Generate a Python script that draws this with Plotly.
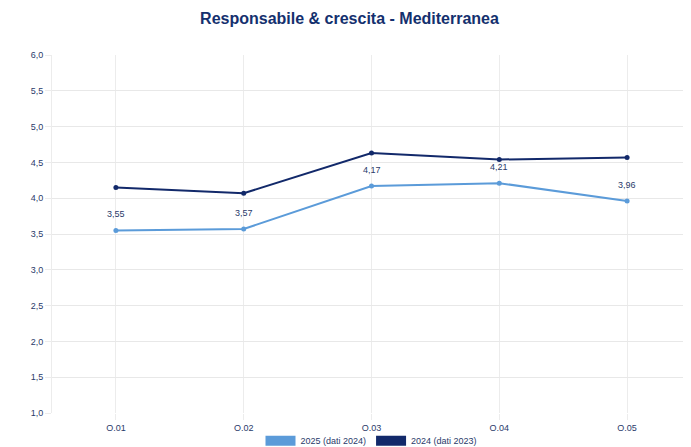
import plotly.graph_objects as go

# DATA
categories = ["O.01", "O.02", "O.03", "O.04", "O.05"]
vals_2025 = [3.55, 3.57, 4.17, 4.21, 3.96]
vals_2024 = [4.15, 4.07, 4.63, 4.54, 4.57]
name_2025 = "2025 (dati 2024)"
name_2024 = "2024 (dati 2023)"
y_ticks = [1.0, 1.5, 2.0, 2.5, 3.0, 3.5, 4.0, 4.5, 5.0, 5.5, 6.0]

LIGHT = "#5b9bd9"
DARK = "#12296a"
TEXT = "#2a3a6a"
FONT = "Liberation Sans, Arial, sans-serif"

fig = go.Figure()

fig.add_trace(go.Scatter(
    x=categories, y=vals_2024, mode="lines+markers",
    line=dict(color=DARK, width=2), marker=dict(color=DARK, size=5),
    showlegend=False, name=name_2024,
))
fig.add_trace(go.Scatter(
    x=categories, y=vals_2025, mode="lines+markers",
    line=dict(color=LIGHT, width=2), marker=dict(color=LIGHT, size=5),
    showlegend=False, name=name_2025,
))

# value labels above the light series
for c, v in zip(categories, vals_2025):
    fig.add_annotation(
        x=c, y=v, text=f"{v:.2f}".replace(".", ","),
        showarrow=False, yshift=16,
        font=dict(size=9, color=TEXT, family=FONT),
    )

# legend swatches (rectangles)
for nm, col in [(name_2025, LIGHT), (name_2024, DARK)]:
    fig.add_trace(go.Scatter(
        x=[None], y=[None], mode="lines", name=nm,
        line=dict(color=col, width=10),
    ))

fig.update_layout(
    width=683, height=439,
    paper_bgcolor="white", plot_bgcolor="white",
    separators=",.",
    font=dict(family=FONT, size=9, color=TEXT),
    title=dict(
        text="<b>Responsabile & crescita - Mediterranea</b>",
        x=0.5, xanchor="center", y=0.977, yanchor="middle",
        font=dict(size=16, color="#14306e", family=FONT),
    ),
    margin=dict(l=44, r=0, t=47, b=34, autoexpand=False),
    legend=dict(
        orientation="h", x=0.5, xanchor="center",
        yref="container", y=0.014, yanchor="middle",
        bgcolor="rgba(0,0,0,0)",
        font=dict(size=9, color=TEXT), itemwidth=30,
        traceorder="normal",
    ),
    xaxis=dict(
        range=[-0.5, 4.5],
        showgrid=True, gridcolor="#ececec", gridwidth=1,
        showline=False, ticks="outside", ticklen=6, tickcolor="#ececec",
        tickfont=dict(size=9, color=TEXT),
    ),
    yaxis=dict(
        range=[1.0, 6.0], tickvals=y_ticks, tickformat=".1f",
        showgrid=True, gridcolor="#e8e8e8", gridwidth=1,
        zeroline=False, showline=True, linecolor="#ececec",
        ticks="outside", ticklen=6, tickcolor="#ececec",
        tickfont=dict(size=9, color=TEXT),
    ),
)

fig.write_html("out.html")
